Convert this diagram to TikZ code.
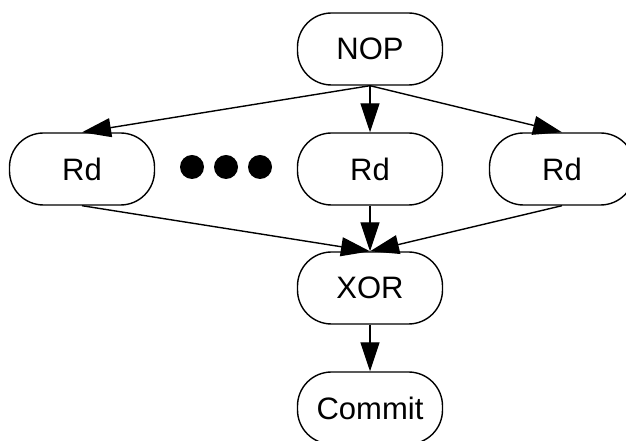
\documentclass[tikz,border=0pt]{standalone}
\usepackage{fontspec}
\setmainfont{Liberation Sans}
\usetikzlibrary{arrows.meta}
\begin{document}
\begin{tikzpicture}[x=1pt,y=1pt,
  op/.style={draw=black, line width=1.4pt, rounded corners=34pt, minimum width=145pt, minimum height=72pt, inner sep=0pt, font=\fontsize{31}{32}\selectfont},
  link/.style={line width=1.4pt, -{Triangle[length=29pt,width=19pt]}},
  dot/.style={circle, fill=black, minimum size=24pt, inner sep=0pt}]
\useasboundingbox (0,0) rectangle (626,441);
\node[op] (nop) at (370,392) {NOP};
\node[op] (rd1) at (82,272) {Rd};
\node[op] (rd2) at (370,272) {Rd};
\node[op] (rd3) at (562,272) {Rd};
\node[op] (xor) at (370,153) {XOR};
\node[op] (commit) at (370,33) {Commit};
\node[dot] (d1) at (192,274) {};
\node[dot] (d2) at (226,274) {};
\node[dot] (d3) at (260,274) {};
\draw[link] (nop.south) -- (rd1.north);
\draw[link] (nop.south) -- (rd2.north);
\draw[link] (nop.south) -- (rd3.north);
\draw[link] (rd1.south) -- (xor.north);
\draw[link] (rd2.south) -- (xor.north);
\draw[link] (rd3.south) -- (xor.north);
\draw[link] (xor.south) -- (commit.north);
\end{tikzpicture}
\end{document}
